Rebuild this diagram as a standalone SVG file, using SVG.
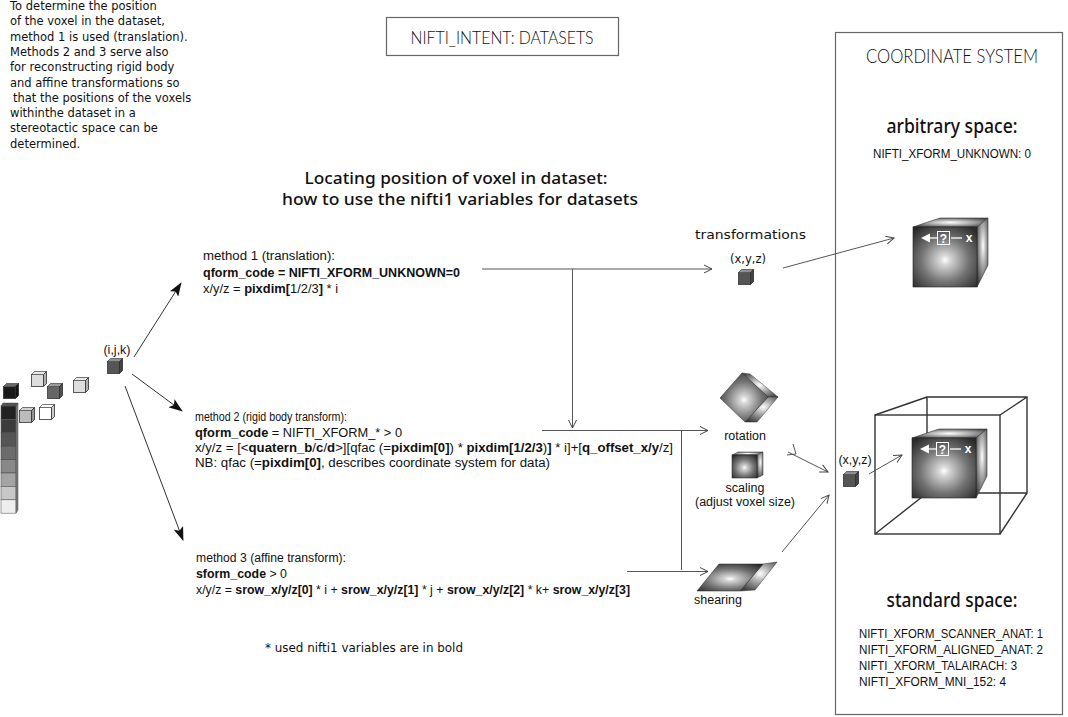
<svg xmlns="http://www.w3.org/2000/svg" xmlns:xlink="http://www.w3.org/1999/xlink" width="1068" height="717" viewBox="0 0 1068 717">
<style>
.geo{font-family:"Liberation Sans",Arial,sans-serif;font-size:12.5px;fill:#111}
.hum{font-family:"DejaVu Sans","Noto Sans",sans-serif;font-size:11.5px;fill:#111}
.head{font-family:"Noto Sans","Open Sans","DejaVu Sans",sans-serif;font-weight:500;fill:#111}
.thin{font-family:"Lato","Liberation Sans",sans-serif;font-weight:300;fill:#111}
.b{font-weight:bold}
.ln{stroke:#555;stroke-width:1;fill:none}
.wire{stroke:#333;stroke-width:1.4;fill:none}
.frame{stroke:#666;stroke-width:1.2;fill:none}
.wt{fill:#fff;font-family:"Liberation Sans",Arial,sans-serif;font-weight:bold}
</style>
<defs>
<radialGradient id="gFront" cx="0.5" cy="0.55" r="0.68">
<stop offset="0" stop-color="#ffffff"/>
<stop offset="0.12" stop-color="#d6d6d6"/>
<stop offset="0.55" stop-color="#737373"/>
<stop offset="1" stop-color="#2a2a2a"/>
</radialGradient>
<radialGradient id="gSide" cx="0.55" cy="0.4" r="0.7">
<stop offset="0" stop-color="#ffffff"/>
<stop offset="0.35" stop-color="#b5b5b5"/>
<stop offset="1" stop-color="#3a3a3a"/>
</radialGradient>
<radialGradient id="gTop" cx="0.5" cy="0.5" r="0.6">
<stop offset="0" stop-color="#ffffff"/>
<stop offset="0.45" stop-color="#b0b0b0"/>
<stop offset="1" stop-color="#4a4a4a"/>
</radialGradient>
<marker id="aFill" markerUnits="userSpaceOnUse" markerWidth="14" markerHeight="10" refX="13" refY="5" orient="auto">
<path d="M0,0 L14,5 L0,10 L3,5z" fill="#111"/>
</marker>
<marker id="aOpen" markerUnits="userSpaceOnUse" markerWidth="10" markerHeight="10" refX="9" refY="5" orient="auto">
<path d="M1,1 L9,5 L1,9" fill="none" stroke="#444" stroke-width="1"/>
</marker>
<symbol id="vox" viewBox="0 0 16 16" overflow="visible">
<rect x="0.5" y="3.5" width="12" height="12" fill="currentColor" stroke="#333" stroke-width="0.8"/>
<polygon points="0.5,3.5 3.5,0.5 15.5,0.5 12.5,3.5" fill="currentColor" stroke="#333" stroke-width="0.8"/>
<polygon points="0.5,3.5 3.5,0.5 15.5,0.5 12.5,3.5" fill="#fff" opacity="0.35"/>
<polygon points="12.5,3.5 15.5,0.5 15.5,12.5 12.5,15.5" fill="currentColor" stroke="#333" stroke-width="0.8"/>
<polygon points="12.5,3.5 15.5,0.5 15.5,12.5 12.5,15.5" fill="#000" opacity="0.2"/>
</symbol>
<g id="bigcube">
<polygon points="913,227 940,218 988,218 977,227" fill="url(#gTop)" stroke="#333" stroke-width="0.6"/>
<polygon points="977,227 988,218 988,265 977,287" fill="url(#gSide)" stroke="#333" stroke-width="0.6"/>
<rect x="913" y="227" width="64" height="60" fill="url(#gFront)" stroke="#222" stroke-width="0.6"/>
<polygon points="921,238 930,233.5 930,242.5" fill="#fff"/>
<line x1="930" y1="238" x2="937" y2="238" stroke="#fff" stroke-width="1.3"/>
<rect x="937.5" y="231.5" width="12" height="13" fill="none" stroke="#fff" stroke-width="1"/>
<text x="943.5" y="243" class="wt" font-size="12" text-anchor="middle">?</text>
<line x1="951" y1="238" x2="962" y2="238" stroke="#fff" stroke-width="1.3"/>
<text x="969" y="242" class="wt" font-size="12" text-anchor="middle">x</text>
</g>
</defs>

<rect width="1068" height="717" fill="#fff"/>

<!-- intro paragraph -->
<g id="intro-text" class="hum">
<text x="10" y="10">To determine the position</text>
<text x="10" y="25.3">of the voxel in the dataset,</text>
<text x="10" y="40.6">method 1 is used (translation).</text>
<text x="10" y="55.9">Methods 2 and 3 serve also</text>
<text x="10" y="71.2">for reconstructing rigid body</text>
<text x="10" y="86.5">and affine transformations so</text>
<text x="13" y="101.8">that the positions of the voxels</text>
<text x="10" y="117.1">withinthe dataset in a</text>
<text x="10" y="132.4">stereotactic space can be</text>
<text x="10" y="147.7">determined.</text>
</g>

<!-- title box -->
<g id="title-node">
<rect x="386.5" y="17.5" width="232" height="38" class="frame"/>
<text x="502" y="44" class="thin" font-size="18" text-anchor="middle" textLength="183" lengthAdjust="spacingAndGlyphs">NIFTI_INTENT: DATASETS</text>
</g>

<g id="heading">
<text x="456" y="184" class="head" font-size="15.5" text-anchor="middle" textLength="303" lengthAdjust="spacingAndGlyphs">Locating position of voxel in dataset:</text>
<text x="460" y="205" class="head" font-size="15.5" text-anchor="middle" textLength="356" lengthAdjust="spacingAndGlyphs">how to use the nifti1 variables for datasets</text>
</g>

<!-- dataset voxels -->
<g id="dataset-node">
<rect x="1" y="406" width="15" height="13.4" fill="#222" stroke="#555" stroke-width="0.6"/>
<rect x="1" y="419.4" width="15" height="13.4" fill="#3c3c3c" stroke="#555" stroke-width="0.6"/>
<rect x="1" y="432.8" width="15" height="13.4" fill="#555" stroke="#444" stroke-width="0.6"/>
<rect x="1" y="446.2" width="15" height="13.4" fill="#6c6c6c" stroke="#444" stroke-width="0.6"/>
<rect x="1" y="459.6" width="15" height="13.4" fill="#888" stroke="#444" stroke-width="0.6"/>
<rect x="1" y="473" width="15" height="13.4" fill="#a4a4a4" stroke="#555" stroke-width="0.6"/>
<rect x="1" y="486.4" width="15" height="13.4" fill="#c8c8c8" stroke="#555" stroke-width="0.6"/>
<rect x="1" y="499.8" width="15" height="13.4" fill="#eeeeee" stroke="#666" stroke-width="0.6"/>
<polygon points="16,406 18,403 18,510 16,513" fill="#777" stroke="#555" stroke-width="0.5"/>
<polygon points="1,406 3,403 18,403 16,406" fill="#555" stroke="#444" stroke-width="0.5"/>
<use xlink:href="#vox" x="3" y="383" width="16" height="16" color="#1a1a1a"/>
<use xlink:href="#vox" x="31" y="371" width="16" height="16" color="#dddddd"/>
<use xlink:href="#vox" x="47" y="383" width="16" height="16" color="#666666"/>
<use xlink:href="#vox" x="73" y="377" width="16" height="16" color="#dddddd"/>
<use xlink:href="#vox" x="19" y="407" width="16" height="16" color="#bbbbbb"/>
<use xlink:href="#vox" x="39" y="404" width="16" height="16" color="#ffffff"/>
</g>

<g id="ijk-node">
<text x="117" y="354" class="geo" font-size="11" text-anchor="middle">(i,j,k)</text>
<use xlink:href="#vox" x="107" y="358" width="16" height="16" color="#555555"/>
</g>

<!-- methods -->
<g id="method1-node" class="geo">
<text x="203" y="260" textLength="132" lengthAdjust="spacingAndGlyphs">method 1 (translation):</text>
<text x="203" y="277" class="b" textLength="257" lengthAdjust="spacingAndGlyphs">qform_code = NIFTI_XFORM_UNKNOWN=0</text>
<text x="203" y="293" textLength="135" lengthAdjust="spacingAndGlyphs">x/y/z = <tspan class="b">pixdim[</tspan>1/2/3<tspan class="b">]</tspan> * i</text>
</g>

<g id="method2-node" class="geo">
<text x="195" y="421" textLength="152" lengthAdjust="spacingAndGlyphs">method 2 (rigid body transform):</text>
<text x="195" y="437" textLength="207" lengthAdjust="spacingAndGlyphs"><tspan class="b">qform_code</tspan> = NIFTI_XFORM_* &gt; 0</text>
<text x="195" y="452" textLength="478" lengthAdjust="spacingAndGlyphs">x/y/z = [&lt;<tspan class="b">quatern_b</tspan>/<tspan class="b">c</tspan>/<tspan class="b">d</tspan>&gt;][qfac (=<tspan class="b">pixdim[0]</tspan>) * <tspan class="b">pixdim[1/2/3</tspan>)<tspan class="b">]</tspan> * i]+[<tspan class="b">q_offset_x/y</tspan>/z]</text>
<text x="195" y="467" textLength="355" lengthAdjust="spacingAndGlyphs">NB: qfac (=<tspan class="b">pixdim[0]</tspan>, describes coordinate system for data)</text>
</g>

<g id="method3-node" class="geo">
<text x="196" y="562" textLength="150" lengthAdjust="spacingAndGlyphs">method 3 (affine transform):</text>
<text x="196" y="578" textLength="91" lengthAdjust="spacingAndGlyphs"><tspan class="b">sform_code</tspan> &gt; 0</text>
<text x="196" y="594" textLength="434" lengthAdjust="spacingAndGlyphs">x/y/z = <tspan class="b">srow_x/y/z[0]</tspan> * i + <tspan class="b">srow_x/y/z[1]</tspan> * j + <tspan class="b">srow_x/y/z[2]</tspan> * k+ <tspan class="b">srow_x/y/z[3]</tspan></text>
</g>

<g id="footnote">
<text x="265" y="652" class="hum" font-size="11" textLength="198" lengthAdjust="spacingAndGlyphs">* used nifti1 variables are in bold</text>
</g>

<!-- transformations -->
<g id="translation-node">
<text x="695" y="239" class="hum" font-size="13" textLength="111" lengthAdjust="spacingAndGlyphs">transformations</text>
<text x="748" y="263" class="hum" font-size="11" text-anchor="middle">(x,y,z)</text>
<use xlink:href="#vox" x="738" y="269" width="16" height="16" color="#555555"/>
</g>

<g id="rotation-node">
<polygon points="742,373 750,374 778,397 768,397" fill="url(#gTop)" stroke="#333" stroke-width="0.5"/>
<polygon points="768,397 778,397 757,422 745,422" fill="url(#gSide)" stroke="#333" stroke-width="0.5"/>
<polygon points="720,398 742,373 768,397 745,422" fill="url(#gFront)" stroke="#222" stroke-width="0.5"/>
<text x="745" y="440" class="geo" font-size="11" text-anchor="middle">rotation</text>
</g>

<g id="scaling-node">
<polygon points="732,455 738,452 763,452 757,455" fill="url(#gTop)" stroke="#333" stroke-width="0.5"/>
<polygon points="757,455 763,452 763,475 757,478" fill="url(#gSide)" stroke="#333" stroke-width="0.5"/>
<rect x="732" y="455" width="25" height="23" fill="url(#gFront)" stroke="#222" stroke-width="0.5"/>
<text x="745" y="492" class="geo" font-size="11" text-anchor="middle">scaling</text>
<text x="745" y="506" class="geo" font-size="11" text-anchor="middle">(adjust voxel size)</text>
</g>

<g id="shearing-node">
<polygon points="763,564 777,562 755,590 740,591" fill="url(#gSide)" stroke="#333" stroke-width="0.5"/>
<polygon points="697,591 719,564 763,564 740,591" fill="url(#gFront)" stroke="#222" stroke-width="0.5"/>
<text x="718" y="604" class="geo" font-size="11" text-anchor="middle">shearing</text>
</g>

<!-- coordinate system -->
<g id="coordinate-system-node">
<rect x="835.5" y="32.5" width="227" height="682" class="frame"/>
<text x="952" y="63" class="thin" font-size="19" text-anchor="middle" textLength="172" lengthAdjust="spacingAndGlyphs">COORDINATE SYSTEM</text>
</g>

<g id="arbitrary-space-node">
<text x="952" y="133" class="head" font-size="19" text-anchor="middle" textLength="131" lengthAdjust="spacingAndGlyphs">arbitrary space:</text>
<text x="873" y="158" class="geo" font-size="12.5" textLength="158" lengthAdjust="spacingAndGlyphs">NIFTI_XFORM_UNKNOWN: 0</text>
<use xlink:href="#bigcube"/>
</g>

<g id="standard-space-node">
<path class="wire" d="M927,397 H1027 V493 H927 Z M875,415 L927,397 M1000,415 L1027,397 M1000,534 L1027,493 M875,534 L927,493"/>
<use xlink:href="#bigcube" transform="translate(-1,211)"/>
<rect x="875" y="415" width="125" height="119" class="wire"/>
<text x="952" y="607" class="head" font-size="19" text-anchor="middle" textLength="131" lengthAdjust="spacingAndGlyphs">standard space:</text>
<text x="859" y="638" class="geo" font-size="12.5" textLength="184" lengthAdjust="spacingAndGlyphs">NIFTI_XFORM_SCANNER_ANAT: 1</text>
<text x="859" y="654" class="geo" font-size="12.5" textLength="184" lengthAdjust="spacingAndGlyphs">NIFTI_XFORM_ALIGNED_ANAT: 2</text>
<text x="859" y="670" class="geo" font-size="12.5" textLength="158" lengthAdjust="spacingAndGlyphs">NIFTI_XFORM_TALAIRACH: 3</text>
<text x="859" y="686" class="geo" font-size="12.5" textLength="147" lengthAdjust="spacingAndGlyphs">NIFTI_XFORM_MNI_152: 4</text>
</g>

<g id="xyz-node">
<text x="855" y="464" class="geo" font-size="12" text-anchor="middle">(x,y,z)</text>
<use xlink:href="#vox" x="843" y="471" width="16" height="16" color="#555555"/>
</g>

<!-- connectors -->
<g id="connectors">
<line x1="134" y1="357" x2="181" y2="283" stroke="#333" stroke-width="1" marker-end="url(#aFill)"/>
<line x1="132" y1="374" x2="182" y2="411" stroke="#333" stroke-width="1" marker-end="url(#aFill)"/>
<line x1="125" y1="386" x2="183" y2="540" stroke="#333" stroke-width="1" marker-end="url(#aFill)"/>
<line x1="482" y1="269" x2="712" y2="269" class="ln" marker-end="url(#aOpen)"/>
<line x1="572.5" y1="269" x2="572.5" y2="428" class="ln" marker-end="url(#aOpen)"/>
<line x1="542" y1="430.5" x2="708" y2="430.5" class="ln" marker-end="url(#aOpen)"/>
<line x1="681.5" y1="430.5" x2="681.5" y2="570" class="ln"/>
<line x1="627" y1="571.5" x2="708" y2="571.5" class="ln" marker-end="url(#aOpen)"/>
<line x1="783" y1="268" x2="894" y2="238" class="ln" marker-end="url(#aOpen)"/>
<line x1="788" y1="452" x2="828" y2="472" class="ln" marker-end="url(#aOpen)"/>
<path d="M793,444 L796,454 M787,455 L796,454" class="ln"/>
<line x1="782" y1="552" x2="829" y2="495" class="ln" marker-end="url(#aOpen)"/>
<line x1="869" y1="474" x2="902" y2="455" class="ln" marker-end="url(#aOpen)"/>
</g>
</svg>
